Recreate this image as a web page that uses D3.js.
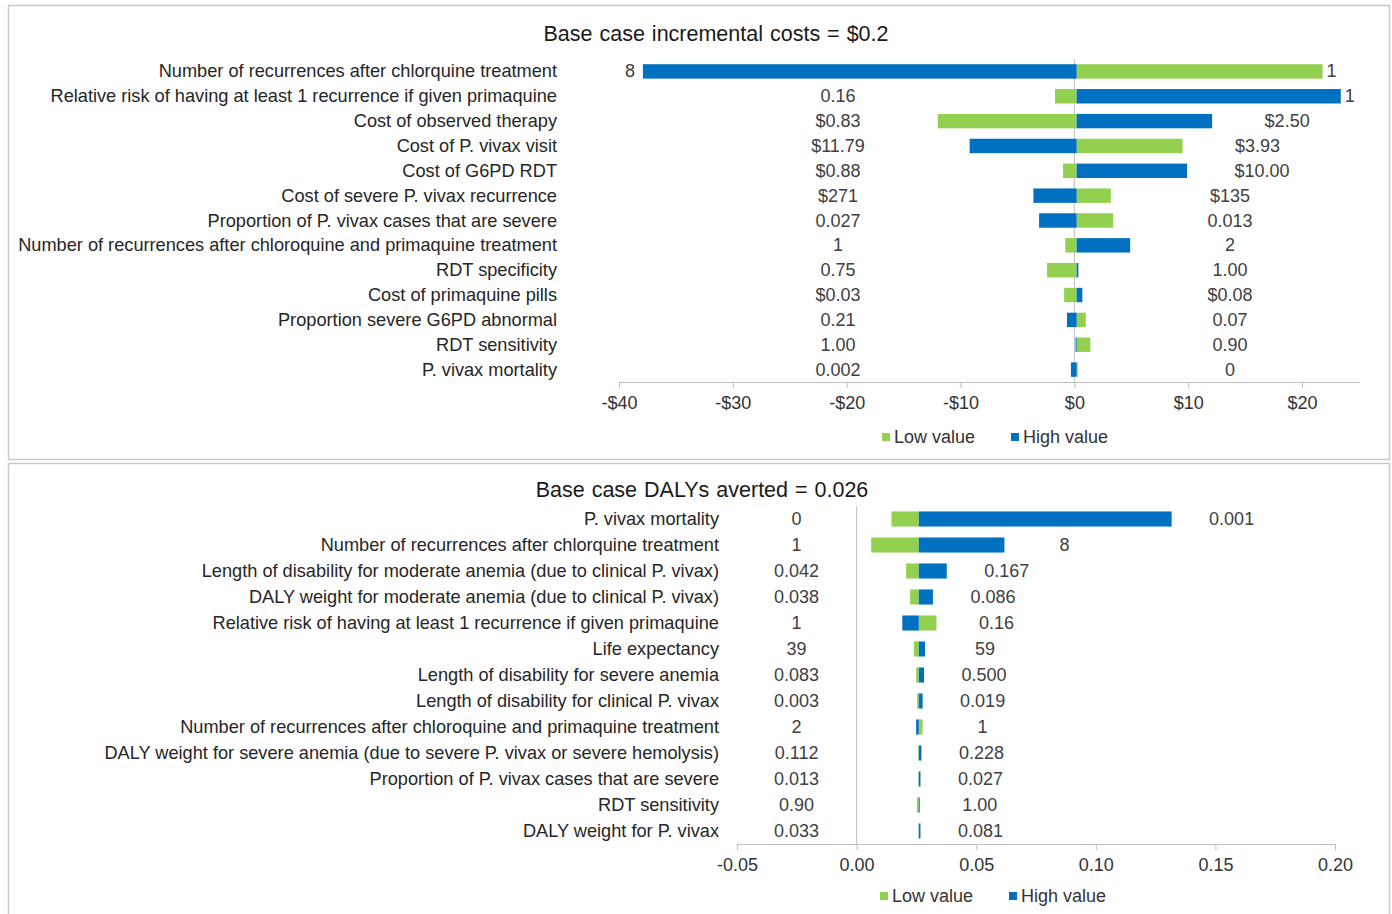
<!DOCTYPE html>
<html>
<head>
<meta charset="utf-8">
<script src="https://cdn.jsdelivr.net/npm/d3@7"></script>
<style>
  body { margin: 0; background: #fff; }
  text { font-family: Arial, "Liberation Sans", sans-serif; fill: #404040; }
</style>
</head>
<body>
<svg id="chart" width="1392" height="914"></svg>
<script>
var width = 1392;
var height = 914;

// series
var seriesNames = ["Low value", "High value"];
var seriesColors = ["#92D050", "#0070C0"];

// TOP - incremental costs
var costBase = 0.2;
var costParams = [
  "Number of recurrences after chlorquine treatment",
  "Relative risk of having at least 1 recurrence if given primaquine",
  "Cost of observed therapy",
  "Cost of P. vivax visit",
  "Cost of G6PD RDT",
  "Cost of severe P. vivax recurrence",
  "Proportion of P. vivax cases that are severe",
  "Number of recurrences after chloroquine and primaquine treatment",
  "RDT specificity",
  "Cost of primaquine pills",
  "Proportion severe G6PD abnormal",
  "RDT sensitivity",
  "P. vivax mortality"
];
var costLowInput = ["1", "0.16", "$0.83", "$3.93", "$0.88", "$135", "0.013", "1", "0.75", "$0.03", "0.07", "0.90", "0"];
var costHighInput = ["8", "1", "$2.50", "$11.79", "$10.00", "$271", "0.027", "2", "1.00", "$0.08", "0.21", "1.00", "0.002"];
var costLow = [21.8, -1.7, -12.0, 9.5, -1.0, 3.2, 3.4, -0.8, -2.4, -0.9, 1.0, 1.4, 0.3];
var costHigh = [-37.9, 23.4, 12.1, -9.2, 9.9, -3.6, -3.1, 4.9, 0.35, 0.7, -0.65, 0.1, -0.3];
var costTicks = [-40, -30, -20, -10, 0, 10, 20];

// BOTTOM - DALYs averted
var dalyBase = 0.026;
var dalyParams = [
  "P. vivax mortality",
  "Number of recurrences after chlorquine treatment",
  "Length of disability for moderate anemia (due to clinical P. vivax)",
  "DALY weight for moderate anemia (due to clinical P. vivax)",
  "Relative risk of having at least 1 recurrence if given primaquine",
  "Life expectancy",
  "Length of disability for severe anemia",
  "Length of disability for clinical P. vivax",
  "Number of recurrences after chloroquine and primaquine treatment",
  "DALY weight for severe anemia (due to severe P. vivax or severe hemolysis)",
  "Proportion of P. vivax cases that are severe",
  "RDT sensitivity",
  "DALY weight for P. vivax"
];
var dalyLowInput = ["0", "1", "0.042", "0.038", "0.16", "39", "0.083", "0.003", "1", "0.112", "0.013", "0.90", "0.033"];
var dalyHighInput = ["0.001", "8", "0.167", "0.086", "1", "59", "0.500", "0.019", "2", "0.228", "0.027", "1.00", "0.081"];
var dalyLow = [0.0146, 0.0061, 0.0207, 0.0224, 0.0334, 0.0240, 0.0249, 0.0253, 0.0276, 0.0258, 0.0258, 0.0252, 0.0259];
var dalyHigh = [0.1317, 0.0618, 0.0377, 0.0319, 0.0191, 0.0286, 0.0282, 0.0276, 0.0249, 0.0271, 0.0267, 0.0264, 0.0267];
var dalyTicks = [-0.05, 0, 0.05, 0.1, 0.15, 0.2];

var svg = d3.select("#chart");

// panel frames
[[5.5, 454], [463.5, 460]].forEach(function (p) {
  svg.append("rect")
    .attr("x", 8.5).attr("y", p[0])
    .attr("width", 1381).attr("height", p[1])
    .attr("fill", "none")
    .attr("stroke", "#c9c9c9")
    .attr("stroke-width", 1.5);
});

function tornado(cfg) {
  var rows = cfg.params.map(function (name, i) {
    return { name: name, low: cfg.low[i], high: cfg.high[i], lowIn: cfg.lowIn[i], highIn: cfg.highIn[i] };
  });

  var x = d3.scaleLinear().domain(cfg.domain).range(cfg.xRange);
  var y = d3.scaleBand().domain(cfg.params).range(cfg.yRange).paddingInner(0.42).paddingOuter(0.21);

  var g = svg.append("g");

  // title
  g.append("text")
    .attr("x", cfg.titleX).attr("y", cfg.titleY)
    .attr("text-anchor", "middle")
    .attr("dominant-baseline", "central")
    .style("font-size", "21.5px")
    .style("fill", "#1a1a1a")
    .style("word-spacing", "1px")
    .text(cfg.title);

  // x axis
  var axis = d3.axisBottom(x)
    .tickValues(cfg.ticks)
    .tickSize(6)
    .tickSizeOuter(0)
    .tickFormat(cfg.format);
  var ax = g.append("g")
    .attr("transform", "translate(0," + cfg.yRange[1] + ")")
    .call(axis);
  ax.select(".domain").attr("stroke", "#bfbfbf");
  ax.selectAll(".tick line").attr("stroke", "#bfbfbf");
  ax.selectAll(".tick text")
    .attr("dy", null).attr("y", 21)
    .attr("dominant-baseline", "central")
    .style("font-size", "18px")
    .style("font-family", "Arial, 'Liberation Sans', sans-serif")
    .style("fill", "#333");

  // zero line
  g.append("line")
    .attr("x1", x(0)).attr("x2", x(0))
    .attr("y1", cfg.yRange[0]).attr("y2", cfg.yRange[1])
    .attr("stroke", "#bfbfbf");

  // category labels
  g.selectAll(".cat").data(rows).enter().append("text")
    .attr("x", cfg.catX)
    .attr("y", function (d) { return y(d.name) + y.bandwidth() / 2; })
    .attr("text-anchor", "end")
    .attr("dominant-baseline", "central")
    .style("font-size", "18.2px")
    .style("fill", "#262626")
    .text(function (d) { return d.name; });

  // bars: low (green) then high (blue)
  ["low", "high"].forEach(function (key, k) {
    g.selectAll(".bar-" + key).data(rows).enter().append("rect")
      .attr("x", function (d) { return x(Math.min(cfg.base, d[key])); })
      .attr("y", function (d) { return y(d.name); })
      .attr("width", function (d) { return Math.abs(x(d[key]) - x(cfg.base)); })
      .attr("height", y.bandwidth())
      .attr("fill", seriesColors[k]);
  });

  // value labels on each side
  rows.forEach(function (d) {
    var leftIsLow = d.low < d.high;
    var leftVal = Math.min(d.low, d.high, cfg.base);
    var rightVal = Math.max(d.low, d.high, cfg.base);
    var cy = y(d.name) + y.bandwidth() / 2;
    var l = cfg.leftPos(x(leftVal), x);
    var r = cfg.rightPos(x(rightVal), x);
    g.append("text")
      .attr("x", l[0]).attr("y", cy)
      .attr("text-anchor", l[1])
      .attr("dominant-baseline", "central")
      .style("font-size", "18px")
      .text(leftIsLow ? d.lowIn : d.highIn);
    g.append("text")
      .attr("x", r[0]).attr("y", cy)
      .attr("text-anchor", r[1])
      .attr("dominant-baseline", "central")
      .style("font-size", "18px")
      .text(leftIsLow ? d.highIn : d.lowIn);
  });

  // legend
  var lg = g.append("g").attr("transform", "translate(" + cfg.legendX + "," + cfg.legendY + ")");
  var offs = [0, 129];
  seriesNames.forEach(function (name, k) {
    lg.append("rect")
      .attr("x", offs[k]).attr("y", -4)
      .attr("width", 8).attr("height", 8)
      .attr("fill", seriesColors[k]);
    lg.append("text")
      .attr("x", offs[k] + 12).attr("y", 0)
      .attr("dominant-baseline", "central")
      .style("font-size", "18px")
      .style("fill", "#333")
      .text(name);
  });
}

tornado({
  title: "Base case incremental costs = $0.2",
  titleX: 716, titleY: 34,
  params: costParams, low: costLow, high: costHigh,
  lowIn: costLowInput, highIn: costHighInput,
  base: costBase,
  domain: [-40, 25], xRange: [619, 1359],
  yRange: [59, 382],
  ticks: costTicks,
  format: function (v) { return (v < 0 ? "-$" : "$") + Math.abs(v); },
  catX: 557,
  leftPos: function (px) {
    if (px - 40 < 660) return [px - 8, "end"];
    return [Math.min(838, px - 60), "middle"];
  },
  rightPos: function (px) {
    var c = Math.max(1230, px + 75);
    if (c + 20 > 1359) return [px + 4, "start"];
    return [c, "middle"];
  },
  legendX: 882, legendY: 437
});

tornado({
  title: "Base case DALYs averted = 0.026",
  titleX: 702, titleY: 490,
  params: dalyParams, low: dalyLow, high: dalyHigh,
  lowIn: dalyLowInput, highIn: dalyHighInput,
  base: dalyBase,
  domain: [-0.05, 0.2], xRange: [737, 1335],
  yRange: [506, 844],
  ticks: dalyTicks,
  format: function (v) { return d3.format(".2f")(v).replace("\u2212", "-"); },
  catX: 719,
  leftPos: function (px, x) { return [x(0) - 60, "middle"]; },
  rightPos: function (px) { return [px + 60, "middle"]; },
  legendX: 880, legendY: 896
});
</script>
</body>
</html>
